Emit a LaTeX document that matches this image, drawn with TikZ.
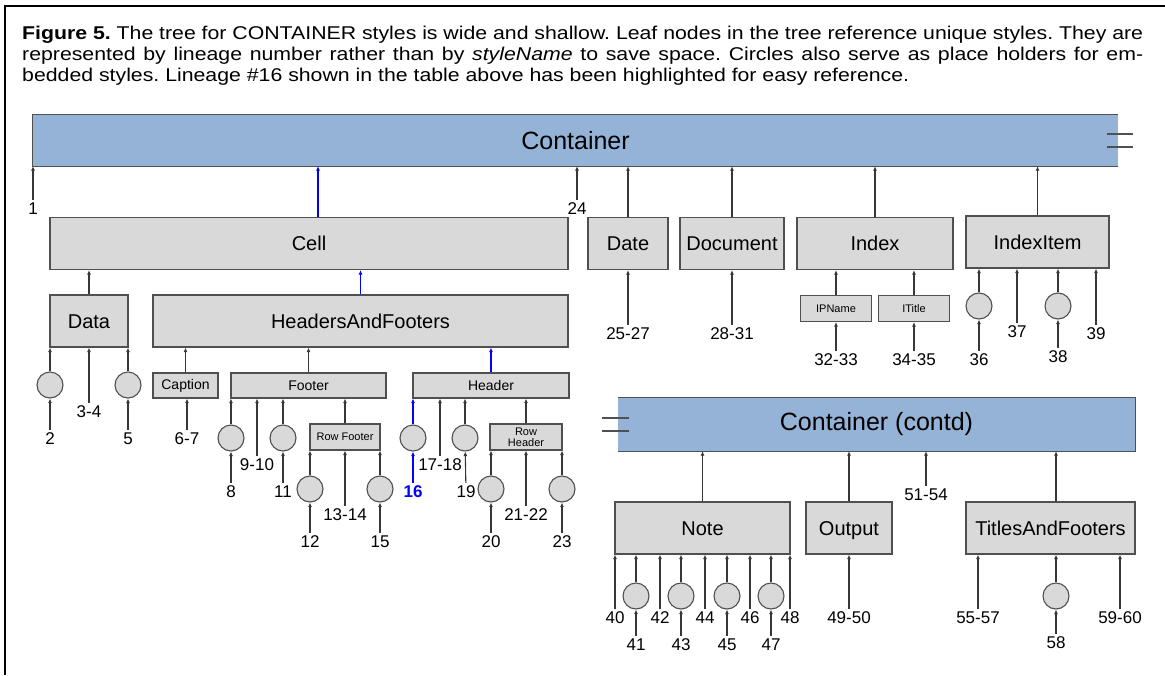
\documentclass[tikz,border=0pt]{standalone}
\usepackage{fontspec}
\setmainfont{Liberation Sans}
\newfontfamily\capfont[FakeStretch=1.15]{Liberation Sans}
\usetikzlibrary{arrows.meta}
\definecolor{contblue}{RGB}{149,179,215}
\definecolor{boxgray}{RGB}{217,217,217}
\definecolor{edgegray}{RGB}{80,80,80}
\definecolor{linkgray}{RGB}{55,55,55}
\tikzset{
  >={Latex[length=4.5pt,width=4pt]},
  contbox/.style={fill=contblue,inner sep=0pt,font=\fontsize{25}{28}\selectfont},
  contedge/.style={draw=edgegray,line width=1.3pt},
  bigbox/.style={draw=edgegray,fill=boxgray,line width=1.3pt,inner sep=0pt,
    minimum height=52pt,text height=18.4pt,text depth=4pt,font=\fontsize{20}{24}\selectfont},
  midbox/.style={draw=edgegray,fill=boxgray,line width=1.1pt,inner sep=0pt,
    minimum height=25pt,font=\fontsize{14}{16}\selectfont},
  smallbox/.style={draw=edgegray,fill=boxgray,line width=1.1pt,inner sep=0pt,
    minimum height=26pt,minimum width=71pt,align=center,font=\fontsize{11}{11}\selectfont},
  holder/.style={circle,draw=edgegray,fill=boxgray,line width=1.1pt,inner sep=0pt,
    minimum size=26pt},
  num/.style={inner sep=3pt,font=\fontsize{17}{20}\selectfont},
  link/.style={->,draw=linkgray,line width=1.1pt},
  hilite/.style={->,draw=blue,line width=1.1pt},
  brk/.style={draw=edgegray,line width=2pt}
}

\begin{document}
\begin{tikzpicture}[x=1pt,y=-1pt]
  \useasboundingbox (0,0) rectangle (1165,675);
  % frame and caption
  \draw[line width=2.6pt] (5,675) -- (5,6) -- (1165,6);
  \node[anchor=north west,inner sep=0pt,align=left,
    font=\capfont\fontsize{18.5}{21}\selectfont\frenchspacing] (cap) at (22,26)
    {\hbox to 1121pt{\textbf{Figure 5.} The tree for CONTAINER styles is wide and shallow. Leaf nodes in the tree reference unique styles. They are}\\
    \hbox to 1121pt{represented by lineage number rather than by \textit{styleName} to save space. Circles also serve as place holders for em-}\\
    bedded styles. Lineage \#16 shown in the table above has been highlighted for easy reference.};

  % root
  \node[contbox,minimum width=1085pt,minimum height=51pt] (cont) at (575.5,140.5) {Container};
  \draw[contedge] (cont.north east) -- (cont.north west) -- (cont.south west) -- (cont.south east);
  \draw[brk] ([xshift=-11pt,yshift=6.5pt]cont.east) -- ++(26,0);
  \draw[brk] ([xshift=-11pt,yshift=-6.5pt]cont.east) -- ++(26,0);

  % first level
  \node[bigbox,minimum width=518pt] (cell) at (309,243.5) {Cell};
  \node[bigbox,minimum width=80pt] (date) at (628,243.5) {Date};
  \node[bigbox,minimum width=104pt] (doc) at (732,243.5) {Document};
  \node[bigbox,minimum width=156pt] (index) at (875,243.5) {Index};
  \node[bigbox,minimum width=143pt] (iitem) at (1037.5,242) {IndexItem};
  \coordinate (cellup) at ([xshift=9pt]cell.north);
  \node[num] (n1) at (33,209) {1};
  \node[num] (n24) at (577,209) {24};
  \draw[link] (n1) -- (n1 |- cont.south);
  \draw[hilite] (cellup) -- (cellup |- cont.south);
  \draw[link] (n24) -- (n24 |- cont.south);
  \draw[link] (date) -- (date |- cont.south);
  \draw[link] (doc) -- (doc |- cont.south);
  \draw[link] (index) -- (index |- cont.south);
  \draw[link] (iitem) -- (iitem |- cont.south);

  % Date, Document, Index, IndexItem
  \node[num] (n2527) at (628,334) {25-27};
  \node[num] (n2831) at (732,334) {28-31};
  \draw[link] (n2527) -- (date);
  \draw[link] (n2831) -- (doc);
  \node[smallbox] (ipname) at (836,308.5) {IPName};
  \node[smallbox] (ititle) at (914,308.5) {ITitle};
  \draw[link] (ipname) -- (ipname |- index.south);
  \draw[link] (ititle) -- (ititle |- index.south);
  \node[num] (n3233) at (836,360) {32-33};
  \node[num] (n3435) at (914,360) {34-35};
  \draw[link] (n3233) -- (ipname);
  \draw[link] (n3435) -- (ititle);
  \node[holder] (c36) at (979,306) {};
  \node[holder] (c38) at (1058,306) {};
  \node[num] (n36) at (979,360) {36};
  \node[num] (n37) at (1017,332) {37};
  \node[num] (n38) at (1058,357) {38};
  \node[num] (n39) at (1096,334) {39};
  \draw[link] (c36) -- (c36 |- iitem.south);
  \draw[link] (n36) -- (c36);
  \draw[link] (n37) -- (n37 |- iitem.south);
  \draw[link] (c38) -- (c38 |- iitem.south);
  \draw[link] (n38) -- (c38);
  \draw[link] (n39) -- (n39 |- iitem.south);

  % Cell
  \node[bigbox,minimum width=78pt] (data) at (89,321) {Data};
  \node[bigbox,minimum width=415pt] (haf) at (360.5,321) {HeadersAndFooters};
  \draw[link] (data) -- (data |- cell.south);
  \draw[hilite] (haf) -- (haf |- cell.south);
  \node[holder] (c2) at (50,385) {};
  \node[holder] (c5) at (128,385) {};
  \node[num] (n2) at (50,439) {2};
  \node[num] (n34) at (89,412) {3-4};
  \node[num] (n5) at (128,439) {5};
  \draw[link] (c2) -- (c2 |- data.south);
  \draw[link] (n2) -- (c2);
  \draw[link] (n34) -- (n34 |- data.south);
  \draw[link] (c5) -- (c5 |- data.south);
  \draw[link] (n5) -- (c5);

  % HeadersAndFooters
  \node[midbox,minimum width=65pt] (caption) at (185.5,385.5) {Caption};
  \node[midbox,minimum width=155pt] (footer) at (308.5,385.5) {Footer};
  \node[midbox,minimum width=156pt] (header) at (491,385.5) {Header};
  \draw[link] (caption) -- (caption |- haf.south);
  \draw[link] (footer) -- (footer |- haf.south);
  \draw[hilite] (header) -- (header |- haf.south);
  \node[num] (n67) at (187,439) {6-7};
  \draw[link] (n67) -- (n67 |- caption.south);

  % Footer
  \node[holder] (c8) at (231,438) {};
  \node[holder] (c11) at (283,438) {};
  \node[smallbox,minimum width=70pt] (rowfoot) at (345,437) {Row Footer};
  \node[num] (n8) at (231,492) {8};
  \node[num] (n910) at (257,465) {9-10};
  \node[num] (n11) at (283,492) {11};
  \draw[link] (c8) -- (c8 |- footer.south);
  \draw[link] (n8) -- (c8);
  \draw[link] (n910) -- (n910 |- footer.south);
  \draw[link] (c11) -- (c11 |- footer.south);
  \draw[link] (n11) -- (c11);
  \draw[link] (rowfoot) -- (rowfoot |- footer.south);
  \node[holder] (c12) at (310,489) {};
  \node[holder] (c15) at (380,489) {};
  \node[num] (n12) at (310,542) {12};
  \node[num] (n1314) at (345,515) {13-14};
  \node[num] (n15) at (380,542) {15};
  \draw[link] (c12) -- (c12 |- rowfoot.south);
  \draw[link] (n12) -- (c12);
  \draw[link] (n1314) -- (n1314 |- rowfoot.south);
  \draw[link] (c15) -- (c15 |- rowfoot.south);
  \draw[link] (n15) -- (c15);

  % Header
  \node[holder] (c16) at (413,438) {};
  \node[holder] (c19) at (465,438) {};
  \node[smallbox,minimum width=72pt] (rowhead) at (526,437) {Row\\Header};
  \node[num,text=blue,font=\fontsize{17}{20}\selectfont\bfseries] (n16) at (413,492) {16};
  \node[num] (n1718) at (440,465) {17-18};
  \node[num] (n19) at (466,492) {19};
  \draw[hilite] (c16) -- (c16 |- header.south);
  \draw[hilite] (n16) -- (c16);
  \draw[link] (n1718) -- (n1718 |- header.south);
  \draw[link] (c19) -- (c19 |- header.south);
  \draw[link] (n19) -- (c19);
  \draw[link] (rowhead) -- (rowhead |- header.south);
  \node[holder] (c20) at (491,489) {};
  \node[holder] (c23) at (562,489) {};
  \node[num] (n20) at (491,542) {20};
  \node[num] (n2122) at (526,515) {21-22};
  \node[num] (n23) at (562,542) {23};
  \draw[link] (c20) -- (c20 |- rowhead.south);
  \draw[link] (n20) -- (c20);
  \draw[link] (n2122) -- (n2122 |- rowhead.south);
  \draw[link] (c23) -- (c23 |- rowhead.south);
  \draw[link] (n23) -- (c23);

  % continued root
  \node[contbox,minimum width=517pt,minimum height=53pt] (cont2) at (876.5,424.5) {Container (contd)};
  \draw[contedge] (cont2.north west) -- (cont2.north east) -- (cont2.south east) -- (cont2.south west);
  \draw[brk] ([xshift=-16pt,yshift=6.5pt]cont2.west) -- ++(27,0);
  \draw[brk] ([xshift=-16pt,yshift=-6.5pt]cont2.west) -- ++(27,0);
  \node[bigbox,minimum width=175pt] (note) at (702.5,528) {Note};
  \node[bigbox,minimum width=86pt] (output) at (849,528) {Output};
  \node[bigbox,minimum width=169pt] (taf) at (1050.5,528) {TitlesAndFooters};
  \coordinate (tafup) at ([xshift=5.5pt]taf.north);
  \node[num] (n5154) at (926,495) {51-54};
  \draw[link] (note) -- (note |- cont2.south);
  \draw[link] (output) -- (output |- cont2.south);
  \draw[link] (n5154) -- (n5154 |- cont2.south);
  \draw[link] (tafup) -- (tafup |- cont2.south);

  % Note
  \node[holder] (c41) at (636,596) {};
  \node[holder] (c43) at (681,596) {};
  \node[holder] (c45) at (727,596) {};
  \node[holder] (c47) at (771,596) {};
  \node[num] (n40) at (615,618) {40};
  \node[num] (n41) at (636,645) {41};
  \node[num] (n42) at (660,618) {42};
  \node[num] (n43) at (681,645) {43};
  \node[num] (n44) at (705,618) {44};
  \node[num] (n45) at (727,645) {45};
  \node[num] (n46) at (750,618) {46};
  \node[num] (n47) at (771,645) {47};
  \node[num] (n48) at (790,618) {48};
  \draw[link] (n40) -- (n40 |- note.south);
  \draw[link] (c41) -- (c41 |- note.south);
  \draw[link] (n41) -- (c41);
  \draw[link] (n42) -- (n42 |- note.south);
  \draw[link] (c43) -- (c43 |- note.south);
  \draw[link] (n43) -- (c43);
  \draw[link] (n44) -- (n44 |- note.south);
  \draw[link] (c45) -- (c45 |- note.south);
  \draw[link] (n45) -- (c45);
  \draw[link] (n46) -- (n46 |- note.south);
  \draw[link] (c47) -- (c47 |- note.south);
  \draw[link] (n47) -- (c47);
  \draw[link] (n48) -- (n48 |- note.south);

  % Output, TitlesAndFooters
  \node[num] (n4950) at (849,618) {49-50};
  \draw[link] (n4950) -- (output);
  \node[holder] (c58) at (1056,596) {};
  \node[num] (n5557) at (978,618) {55-57};
  \node[num] (n58) at (1056,643) {58};
  \node[num] (n5960) at (1120,618) {59-60};
  \draw[link] (n5557) -- (n5557 |- taf.south);
  \draw[link] (c58) -- (c58 |- taf.south);
  \draw[link] (n58) -- (c58);
  \draw[link] (n5960) -- (n5960 |- taf.south);
\end{tikzpicture}
\end{document}
